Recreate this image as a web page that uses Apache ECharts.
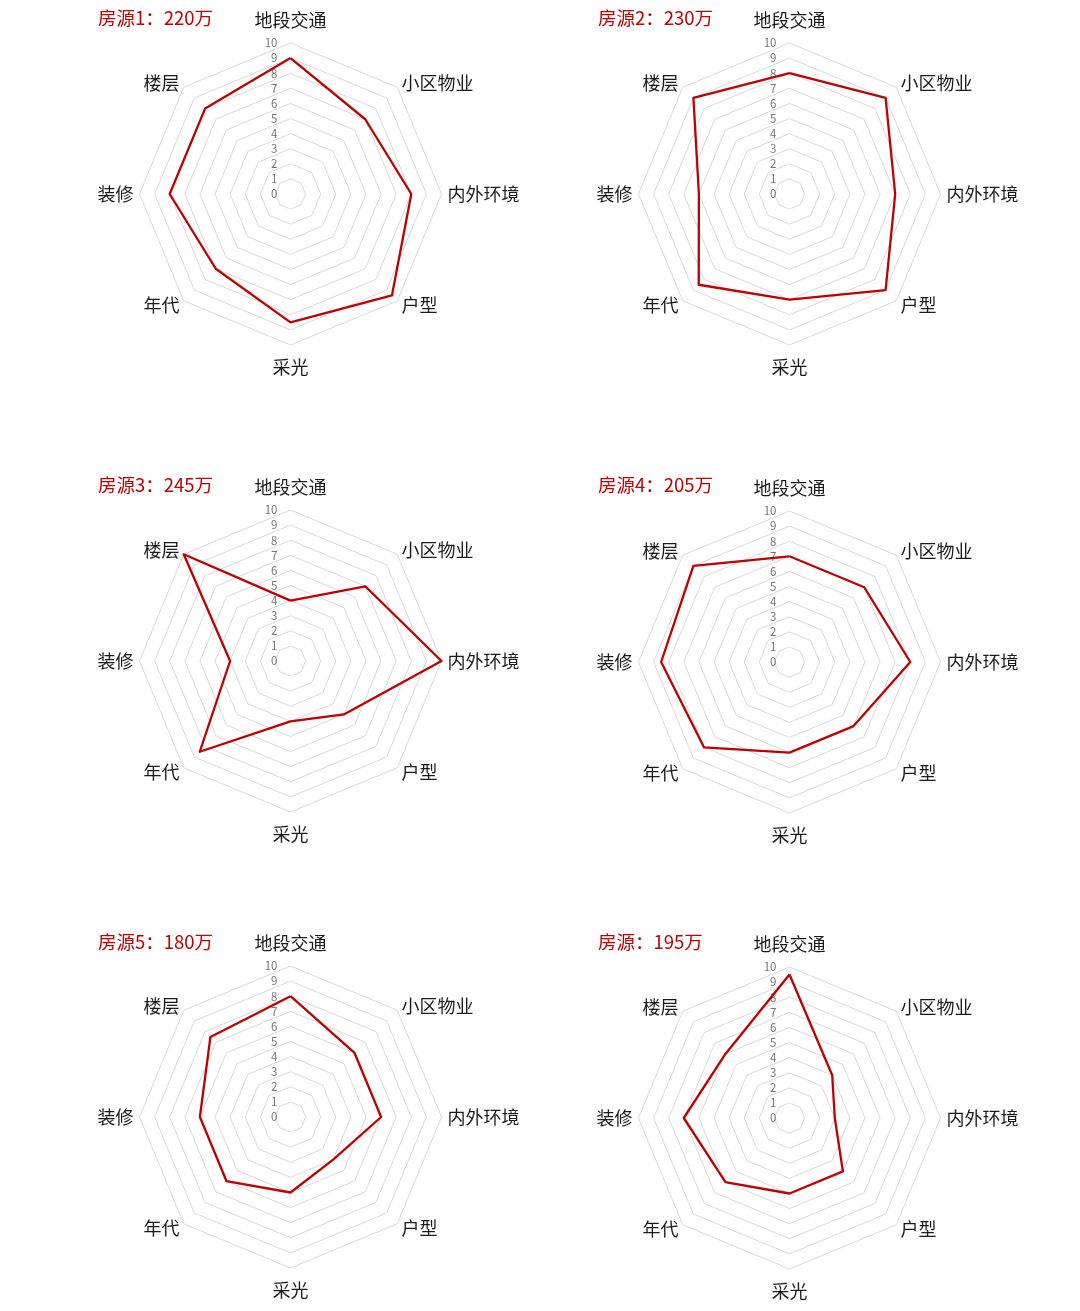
<!DOCTYPE html>
<html>
<head>
<meta charset="utf-8">
<script src="https://cdn.jsdelivr.net/npm/echarts@6/dist/echarts.min.js"></script>
<style>
html,body{margin:0;padding:0;background:#fff;}
#chart{width:1080px;height:1311px;}
</style>
</head>
<body>
<div id="chart"></div>
<script>
// Indicators in clockwise order starting from the top
const indicatorNames = ['地段交通', '小区物业', '内外环境', '户型', '采光', '年代', '装修', '楼层'];
const chartTitles = ['房源1：220万', '房源2：230万', '房源3：245万', '房源4：205万', '房源5：180万', '房源：195万'];
const house1 = [9, 7, 8, 9.5, 8.5, 7, 8, 8];
const house2 = [8, 9, 7, 9, 7, 8.5, 6, 9];
const house3 = [4, 7, 10, 5, 4, 8.5, 4, 10];
const house4 = [7, 7, 8, 6, 6, 8, 8.5, 9];
const house5 = [8, 6, 6, 4, 5, 6, 6, 7.5];
const house6 = [9.5, 4, 3, 5, 5, 6, 7, 6];
const scoreMin = 0;
const scoreMax = 10;

const houses = [house1, house2, house3, house4, house5, house6];
// ECharts places indicators counter-clockwise, so reorder to read clockwise
const order = [0, 7, 6, 5, 4, 3, 2, 1];

const centers = [[290.5, 194], [789.5, 194], [290.5, 661], [789.5, 662], [290.5, 1117], [789.5, 1118]];
const titlePos = [[98, 7], [598, 7], [98, 474], [598, 474], [98, 931], [598, 931]];
const RED = '#c00000';
const FONT = '"Noto Sans CJK SC", "Noto Sans", sans-serif';

function gapFor(k) {
  if (k === 0) return 14;
  if (k === 4) return 13;
  return 6;
}

const radars = centers.map(function (c) {
  return {
    center: c,
    radius: 151,
    startAngle: 90,
    shape: 'polygon',
    splitNumber: 10,
    axisName: { color: '#1a1a1a', fontSize: 18, fontFamily: FONT },
    axisLine: { show: false },
    axisTick: { show: false },
    axisLabel: { show: false },
    splitLine: { lineStyle: { color: '#d9d9d9', width: 1 } },
    splitArea: { show: false },
    indicator: order.map(function (idx, k) {
      const ind = { name: indicatorNames[idx], min: scoreMin, max: scoreMax, nameGap: gapFor(k) };
      if (k === 0) {
        ind.axisLabel = { show: true, color: '#767676', fontSize: 11.5, fontFamily: FONT, margin: 13,
          showMinLabel: true, showMaxLabel: true, hideOverlap: false };
      }
      return ind;
    })
  };
});

const titles = chartTitles.map(function (t, i) {
  return {
    text: t,
    left: titlePos[i][0],
    top: titlePos[i][1],
    padding: 0,
    textStyle: { color: RED, fontSize: 18.5, fontWeight: 'normal', fontFamily: FONT, lineHeight: 22 }
  };
});

const series = houses.map(function (h, i) {
  return {
    type: 'radar',
    radarIndex: i,
    symbol: 'none',
    silent: true,
    lineStyle: { color: RED, width: 2.3 },
    data: [{ value: order.map(function (idx) { return h[idx]; }), name: chartTitles[i] }]
  };
});

const chart = echarts.init(document.getElementById('chart'), null, { renderer: 'canvas' });
chart.setOption({
  animation: false,
  backgroundColor: '#ffffff',
  title: titles,
  radar: radars,
  series: series
});
</script>
</body>
</html>
